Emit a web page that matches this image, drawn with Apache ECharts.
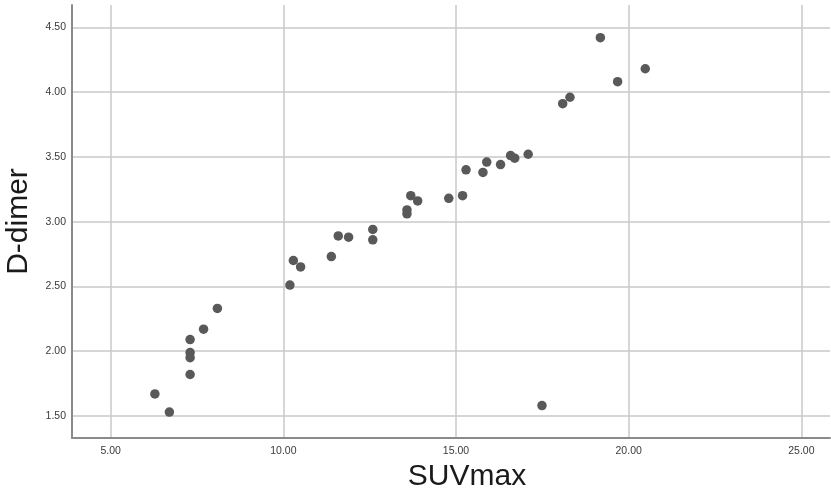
<!DOCTYPE html>
<html>
<head>
<meta charset="utf-8">
<script src="https://cdn.jsdelivr.net/npm/echarts@6/dist/echarts.min.js"></script>
<style>
  html, body { margin: 0; padding: 0; background: #fff; }
  #chart { width: 831px; height: 490px; }
</style>
</head>
<body>
<div id="chart"></div>
<script>
// SUVmax vs D-dimer
const suvmax = [6.28, 6.70, 7.30, 7.30, 7.30, 7.30, 7.69, 8.09, 10.19, 10.29,
  10.50, 11.39, 11.59, 11.89, 12.59, 12.59, 13.58, 13.58, 13.69, 13.89,
  14.79, 15.19, 15.29, 15.78, 15.89, 16.29, 16.58, 16.70, 17.09, 17.49,
  18.09, 18.30, 19.18, 19.68, 20.48];
const dDimer = [1.67, 1.53, 2.09, 1.99, 1.95, 1.82, 2.17, 2.33, 2.51, 2.70,
  2.65, 2.73, 2.89, 2.88, 2.94, 2.86, 3.09, 3.06, 3.20, 3.16,
  3.18, 3.20, 3.40, 3.38, 3.46, 3.44, 3.51, 3.49, 3.52, 1.58,
  3.91, 3.96, 4.42, 4.08, 4.18];
const xTicks = [5, 10, 15, 20, 25];
const yTicks = [1.5, 2.0, 2.5, 3.0, 3.5, 4.0, 4.5];

const points = suvmax.map((v, i) => [v, dDimer[i]]);

const chart = echarts.init(document.getElementById('chart'));
const option = {
  animation: false,
  textStyle: { fontFamily: 'Liberation Sans' },
  grid: {
    left: 72, right: 1, top: 5, bottom: 52,
    containLabel: false,
    outerBoundsMode: 'none'
  },
  xAxis: {
    type: 'value',
    min: 3.88,
    max: 25.83,
    name: 'SUVmax',
    nameLocation: 'middle',
    nameGap: 20,
    // title sits a bit right of the plot centre in the original
    nameTextStyle: { fontSize: 30, color: '#1a1a1a', padding: [0, 0, 0, 32] },
    axisLine: { show: true, lineStyle: { color: '#8a8a8a', width: 2 } },
    axisTick: { show: false, customValues: xTicks },
    axisLabel: {
      customValues: xTicks,
      color: '#3a3a3a',
      fontSize: 10.5,
      margin: 8,
      formatter: v => v.toFixed(2)
    },
    splitLine: { show: true, lineStyle: { color: '#c8c8c8', width: 1.5 } }
  },
  yAxis: {
    type: 'value',
    min: 1.33,
    max: 4.672,
    name: 'D-dimer',
    nameLocation: 'middle',
    nameGap: 38,
    nameRotate: 90,
    nameTextStyle: { fontSize: 30, color: '#1a1a1a' },
    axisLine: { show: true, lineStyle: { color: '#8a8a8a', width: 2 } },
    axisTick: { show: false, customValues: yTicks },
    axisLabel: {
      customValues: yTicks,
      color: '#3a3a3a',
      fontSize: 10.5,
      margin: 6,
      formatter: v => v.toFixed(2)
    },
    splitLine: { show: true, lineStyle: { color: '#c8c8c8', width: 1.5 } }
  },
  series: [
    {
      type: 'scatter',
      data: points,
      symbolSize: 9.5,
      itemStyle: { color: '#595959', opacity: 1 }
    }
  ]
};
chart.setOption(option);
</script>
</body>
</html>
